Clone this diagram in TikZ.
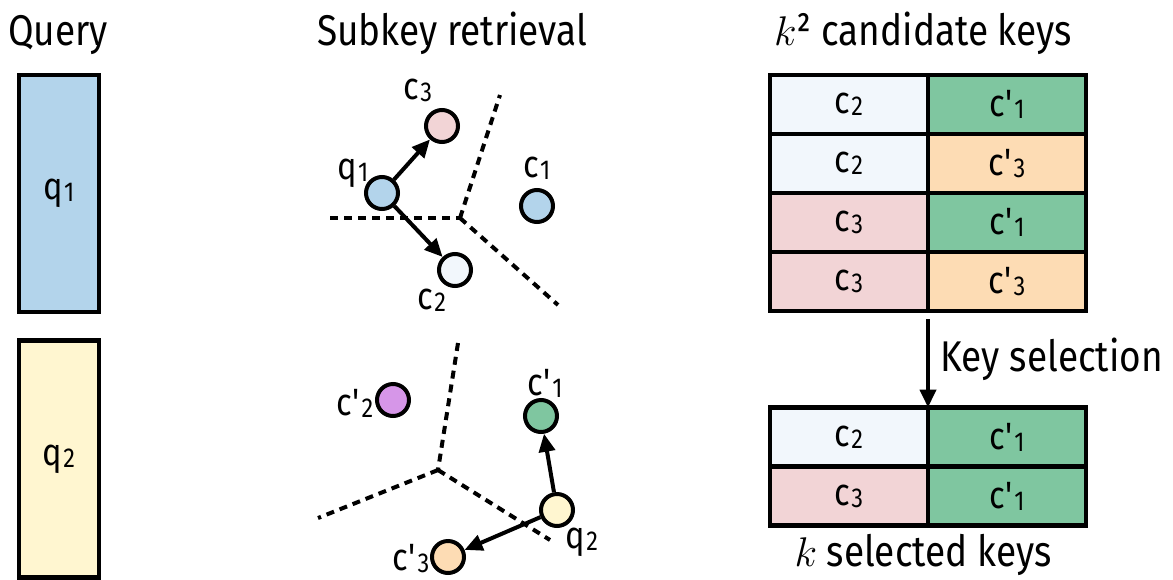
\documentclass[tikz,border=0pt]{standalone}
\usepackage{fontspec}
\setmainfont{Fira Sans}[FakeStretch=0.86]
\usetikzlibrary{positioning,arrows.meta}
\usepackage{xcolor}
\definecolor{qblue}{RGB}{179,212,235}
\definecolor{qyellow}{RGB}{255,246,208}
\definecolor{cpink}{RGB}{242,212,214}
\definecolor{cpale}{RGB}{242,247,252}
\definecolor{cgreen}{RGB}{127,198,160}
\definecolor{corange}{RGB}{253,220,180}
\definecolor{cpurple}{RGB}{214,150,232}
\newcommand{\ssub}[1]{\kern0.5pt\raisebox{-0.1ex}{\fontsize{0.72em}{1em}\selectfont #1}}
\newcommand{\pc}[1]{c\textquotesingle\ssub{#1}}

\begin{document}
\begin{tikzpicture}[x=0.5pt, y=-0.5pt,
    title/.style={font=\fontsize{21.5}{24}\selectfont, anchor=base},
    lbl/.style={font=\fontsize{19}{21}\selectfont, inner sep=1pt},
    query/.style={rectangle, draw, line width=2.2pt, minimum width=40pt, minimum height=118.5pt, font=\fontsize{19}{21}\selectfont},
    pt/.style={circle, draw, line width=2pt, minimum size=16pt, inner sep=0pt},
    arr/.style={-{Triangle[length=9pt,width=8pt]}, line width=2pt},
    bound/.style={line width=2pt, dash pattern=on 4pt off 3pt},
    cell/.style={rectangle, draw, line width=2.2pt, minimum width=79pt, minimum height=29.5pt, inner sep=0pt, outer sep=0pt, font=\fontsize{19}{21}\selectfont}
]
\useasboundingbox (0,0) rectangle (1173,579);

% === QUERY ===
\node (tquery) [title] at (58,45) {Query};
\node (q1box) [query, fill=qblue] at (59,193.5) {q\ssub{1}};
\node (q2box) [query, fill=qyellow] at (59,459) {q\ssub{2}};

% === SUBKEY RETRIEVAL (oben) ===
\node (tsub) [title] at (452,45) {Subkey retrieval};
\coordinate (m1) at (460,218);
\draw[bound] (330,218) -- (m1);
\draw[bound] (m1) -- (500,95);
\draw[bound] (m1) -- (558,305);

\node (q1) [pt, fill=qblue] at (382,193) {};
\node (c3) [pt, fill=cpink] at (442,126) {};
\node (c1) [pt, fill=qblue] at (537,206) {};
\node (c2) [pt, fill=cpale] at (455,270) {};
\node [lbl] at (353,173) {q\ssub{1}};
\node [lbl] at (418,90) {c\ssub{3}};
\node [lbl] at (537,168) {c\ssub{1}};
\node [lbl] at (432,300) {c\ssub{2}};
\draw[arr] (q1) -- (c3);
\draw[arr] (q1) -- (c2);

% === SUBKEY RETRIEVAL (unten) ===
\coordinate (m2) at (438,470);
\draw[bound] (458,343) -- (m2);
\draw[bound] (m2) -- (318,518);
\draw[bound] (m2) -- (550,540);

\node (pc2) [pt, fill=cpurple] at (393,400) {};
\node (pc1) [pt, fill=cgreen] at (541,416) {};
\node (q2) [pt, fill=qyellow] at (557,510) {};
\node (pc3) [pt, fill=corange] at (448,557) {};
\node [lbl] at (355,403) {\pc{2}};
\node [lbl] at (545,383) {\pc{1}};
\node [lbl] at (582,542) {q\ssub{2}};
\node [lbl] at (411,559) {\pc{3}};
\draw[arr] (q2) -- (pc1);
\draw[arr] (q2) -- (pc3);

% === CANDIDATE KEYS ===
\node (tcand) [title] at (923,45) {$k$² candidate keys};
\node (a1) [cell, fill=cpale] at (849,104.5) {c\ssub{2}};
\node (b1) [cell, fill=cgreen, right=0pt of a1] {\pc{1}};
\node (a2) [cell, fill=cpale, below=0pt of a1] {c\ssub{2}};
\node (b2) [cell, fill=corange, right=0pt of a2] {\pc{3}};
\node (a3) [cell, fill=cpink, below=0pt of a2] {c\ssub{3}};
\node (b3) [cell, fill=cgreen, right=0pt of a3] {\pc{1}};
\node (a4) [cell, fill=cpink, below=0pt of a3] {c\ssub{3}};
\node (b4) [cell, fill=corange, right=0pt of a4] {\pc{3}};

% === SELECTED KEYS ===
\node (s1) [cell, fill=cpale] at (849,437) {c\ssub{2}};
\node (t1) [cell, fill=cgreen, right=0pt of s1] {\pc{1}};
\node (s2) [cell, fill=cpink, below=0pt of s1] {c\ssub{3}};
\node (t2) [cell, fill=cgreen, right=0pt of s2] {\pc{1}};
\node (tsel) [title] at (923,566) {$k$ selected keys};

\draw[arr, shorten <=4pt] (a4.south east) -- node[right, font=\fontsize{21.5}{24}\selectfont, xshift=2pt] {Key selection} (s1.north east);

\end{tikzpicture}
\end{document}
